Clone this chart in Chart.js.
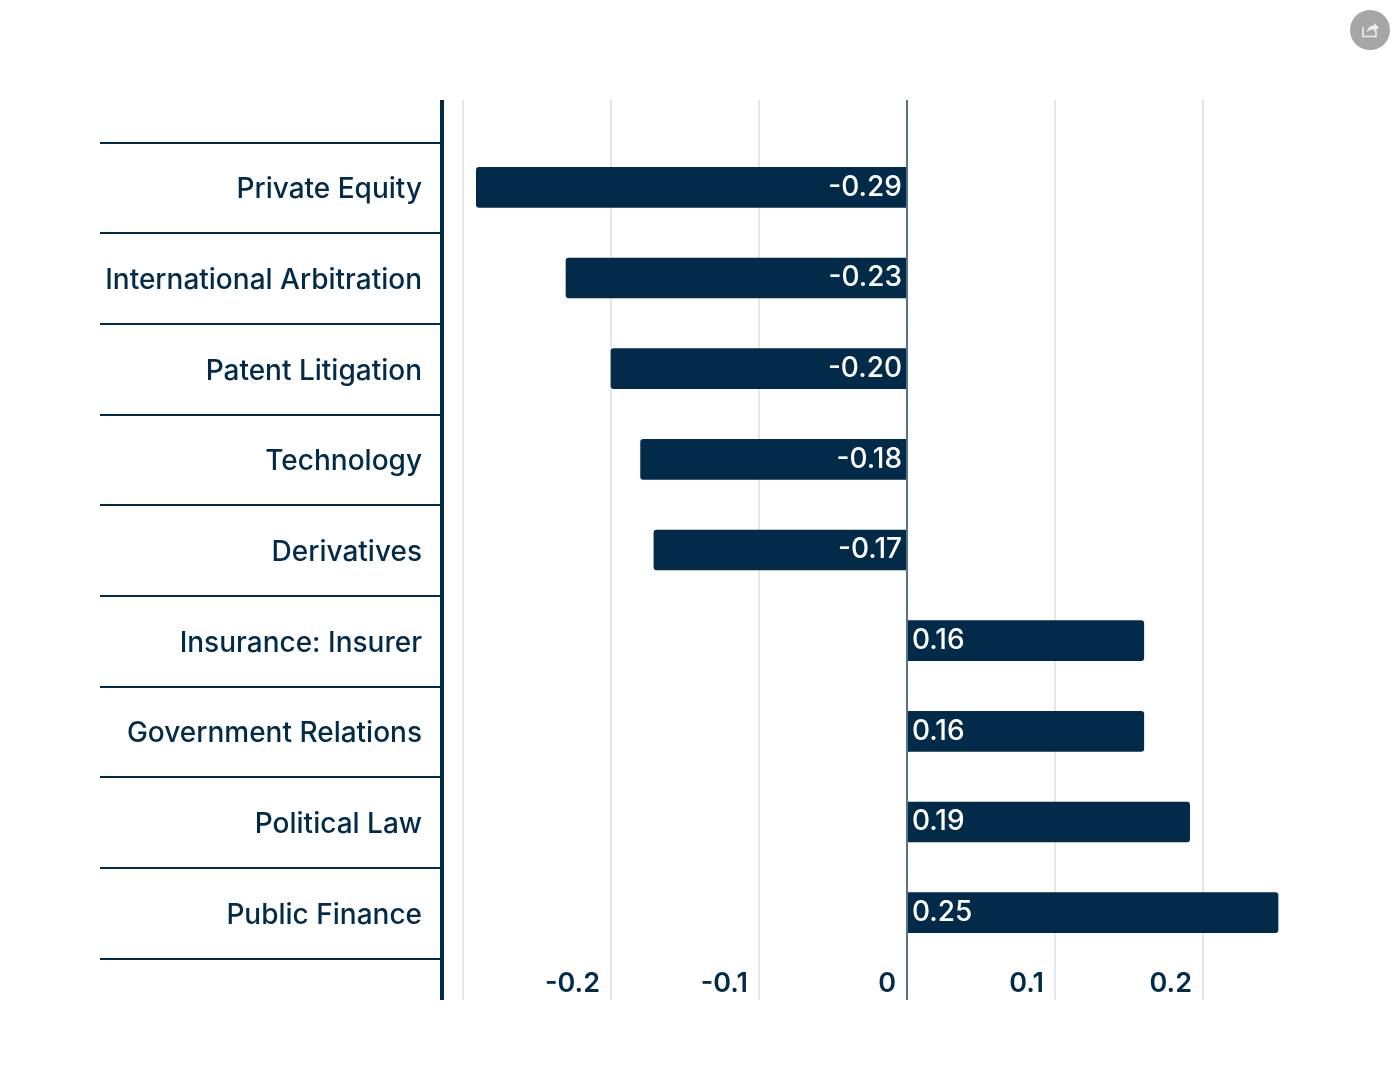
<!DOCTYPE html>
<html>
<head>
<meta charset="utf-8">
<style>
html,body{margin:0;padding:0;background:#fff;overflow:hidden}
#wrap{position:relative;width:1400px;height:1084px}
#share{position:absolute;left:1350px;top:10px;width:40px;height:40px}
</style>
<script src="https://cdn.jsdelivr.net/npm/chart.js@4/dist/chart.umd.min.js"></script>
</head>
<body>
<div id="wrap">
<canvas id="c" width="1400" height="1084"></canvas>
<svg id="share" viewBox="0 0 40 40"><circle cx="20" cy="20" r="20" fill="#a6a6a6"/><path d="M13 17v9.5h13V21" fill="none" stroke="#eee" stroke-width="1.6"/><path d="M17 22c.5-4 3-6.3 7-6.5V13l5 4.6-5 4.4v-2.8c-3 0-5 1-7 2.8z" fill="#eee"/></svg>
</div>
<script>
const categories = ["Private Equity","International Arbitration","Patent Litigation","Technology","Derivatives","Insurance: Insurer","Government Relations","Political Law","Public Finance"];
const values = [-0.291,-0.2304,-0.2,-0.18,-0.171,0.16,0.16,0.191,0.2507];
const xTicks = [-0.3,-0.2,-0.1,0,0.1,0.2];
const xTickLabels = {"-0.2":"-0.2","-0.1":"-0.1","0":"0","0.1":"0.1","0.2":"0.2"};
const NAVY = "#022b4a", GRID = "#e3e6ea", ZERO = "#5b7389";
const FONT = "Inter";

const frame = {
  id:"frame",
  beforeDatasetsDraw(chart){
    const g = chart.ctx, x = chart.scales.x, y = chart.scales.y;
    g.save();
    xTicks.forEach(v=>{
      const p = Math.round(x.getPixelForValue(v));
      g.strokeStyle = GRID; g.lineWidth = 2;
      g.beginPath(); g.moveTo(p,100); g.lineTo(p,1000); g.stroke();
    });
    const half = (y.getPixelForValue(1)-y.getPixelForValue(0))/2;
    g.strokeStyle = NAVY; g.lineWidth = 2;
    for(let i=0;i<=categories.length;i++){
      const p = Math.round(y.getPixelForValue(i)-half+0.7);
      g.beginPath(); g.moveTo(100,p); g.lineTo(chart.chartArea.left,p); g.stroke();
    }
    g.restore();
  },
  afterDatasetsDraw(chart){
    const g = chart.ctx, x = chart.scales.x;
    g.save();
    const z = Math.round(x.getPixelForValue(0));
    g.strokeStyle = ZERO; g.lineWidth = 2;
    g.beginPath(); g.moveTo(z,100); g.lineTo(z,1000); g.stroke();
    g.strokeStyle = NAVY; g.lineWidth = 4;
    g.beginPath(); g.moveTo(chart.chartArea.left,100); g.lineTo(chart.chartArea.left,1000); g.stroke();
    g.fillStyle = "#fff"; g.font = "500 28px "+FONT; g.textBaseline = "middle";
    chart.getDatasetMeta(0).data.forEach((bar,i)=>{
      const v = values[i];
      g.textAlign = v<0 ? "right" : "left";
      g.fillText(v.toFixed(2), bar.base + (v<0?-5:5), bar.y);
    });
    g.restore();
  }
};

new Chart(document.getElementById("c"),{
  type:"bar",
  data:{labels:categories,datasets:[{data:values,backgroundColor:NAVY,barThickness:40,borderRadius:3,borderSkipped:"start"}]},
  options:{
    indexAxis:"y",responsive:false,animation:false,devicePixelRatio:1,
    layout:{padding:{left:100,top:142,right:100,bottom:84}},
    plugins:{legend:{display:false},tooltip:{enabled:false},title:{display:false}},
    scales:{
      x:{
        type:"linear",min:-0.31419,max:0.26554,
        afterBuildTicks(s){s.ticks=xTicks.map(v=>({value:v}));},
        afterFit(s){s.height=42;},
        border:{display:false},
        grid:{display:false},
        ticks:{autoSkip:false,maxRotation:0,align:"end",labelOffset:-11,padding:2,color:NAVY,
          font:{family:FONT,size:27,weight:"600"},
          callback:v=>xTickLabels[String(v)]||""}
      },
      y:{
        type:"category",
        afterFit(s){s.width=342;},
        border:{display:false},
        grid:{display:false},
        ticks:{autoSkip:false,padding:12,labelOffset:2.5,color:NAVY,font:{family:FONT,size:28,weight:"500"}}
      }
    }
  },
  plugins:[frame]
});
</script>
</body>
</html>
